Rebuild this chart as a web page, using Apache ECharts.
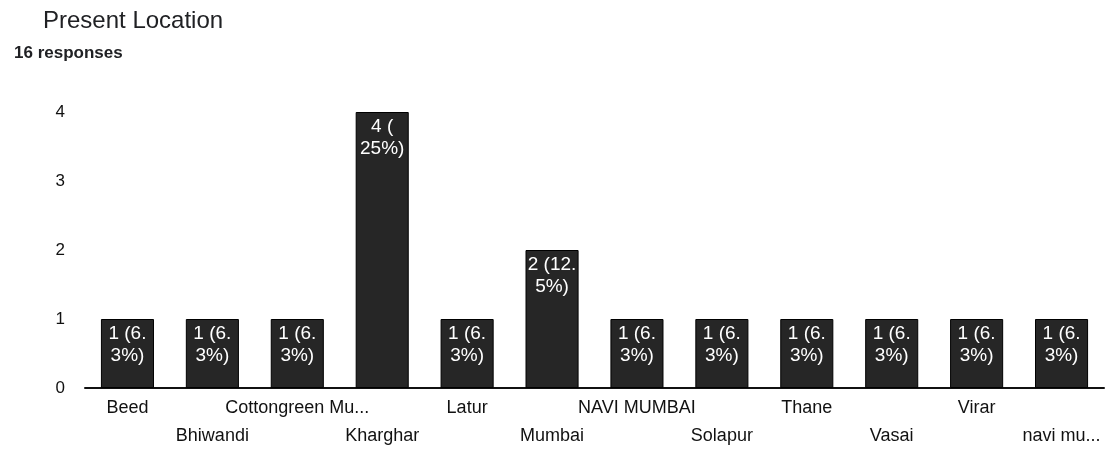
<!DOCTYPE html>
<html>
<head>
<meta charset="utf-8">
<script src="https://cdn.jsdelivr.net/npm/echarts@6/dist/echarts.min.js"></script>
<style>
  html, body { margin: 0; padding: 0; background: #ffffff; }
  #chart { width: 1106px; height: 450px; }
</style>
</head>
<body>
<div id="chart"></div>
<script>
// Survey question: "Present Location"
const locations = ['Beed', 'Bhiwandi', 'Cottongreen Mu...', 'Kharghar', 'Latur', 'Mumbai',
                   'NAVI MUMBAI', 'Solapur', 'Thane', 'Vasai', 'Virar', 'navi mu...'];
const counts = [1, 1, 1, 4, 1, 2, 1, 1, 1, 1, 1, 1];
const totalResponses = 16;
const yTicks = [0, 1, 2, 3, 4];

const FONT = '"Liberation Sans", Arial, sans-serif';

// "1 (6.3%)" is wrapped after the decimal point, or after "(" for whole percentages
function barLabel(v) {
  const pct = Math.round(v / totalResponses * 1000) / 10;
  const text = v + ' (' + pct + '%)';
  return text.indexOf('.') >= 0 ? text.replace('.', '.\n') : text.replace('(', '(\n');
}

const chart = echarts.init(document.getElementById('chart'), null, { renderer: 'canvas' });
chart.setOption({
  animation: false,
  backgroundColor: '#ffffff',
  title: [
    { text: 'Present Location', left: 38, top: 4,
      textStyle: { fontFamily: FONT, fontSize: 24, fontWeight: 'normal', color: '#202124' } },
    { text: totalResponses + ' responses', left: 9, top: 40,
      textStyle: { fontFamily: FONT, fontSize: 17, fontWeight: 'bold', color: '#202124' } }
  ],
  grid: { left: 85, right: 2, top: 112, bottom: 62, containLabel: false, outerBoundsMode: 'none' },
  xAxis: {
    type: 'category',
    data: locations,
    axisLine: { show: true, lineStyle: { color: '#111', width: 2 } },
    axisTick: { show: false },
    axisLabel: {
      interval: 0,
      margin: 6,
      fontFamily: FONT,
      fontSize: 18,
      color: '#111',
      lineHeight: 28,
      formatter: (name, idx) => (idx % 2 === 1 ? '\n' + name : name)
    }
  },
  yAxis: {
    type: 'value',
    min: yTicks[0],
    max: yTicks[yTicks.length - 1],
    interval: 1,
    splitLine: { show: false },
    axisLine: { show: false },
    axisTick: { show: false },
    axisLabel: { margin: 20, fontFamily: FONT, fontSize: 17, color: '#111' }
  },
  series: [{
    type: 'bar',
    data: counts,
    barCategoryGap: '37.5%',
    itemStyle: { color: '#262626', borderColor: '#000', borderWidth: 1 },
    label: {
      show: true,
      position: 'insideTop',
      distance: 4,
      fontFamily: FONT,
      fontSize: 19,
      lineHeight: 22,
      color: '#ffffff',
      formatter: p => barLabel(p.value)
    }
  }]
});
</script>
</body>
</html>
